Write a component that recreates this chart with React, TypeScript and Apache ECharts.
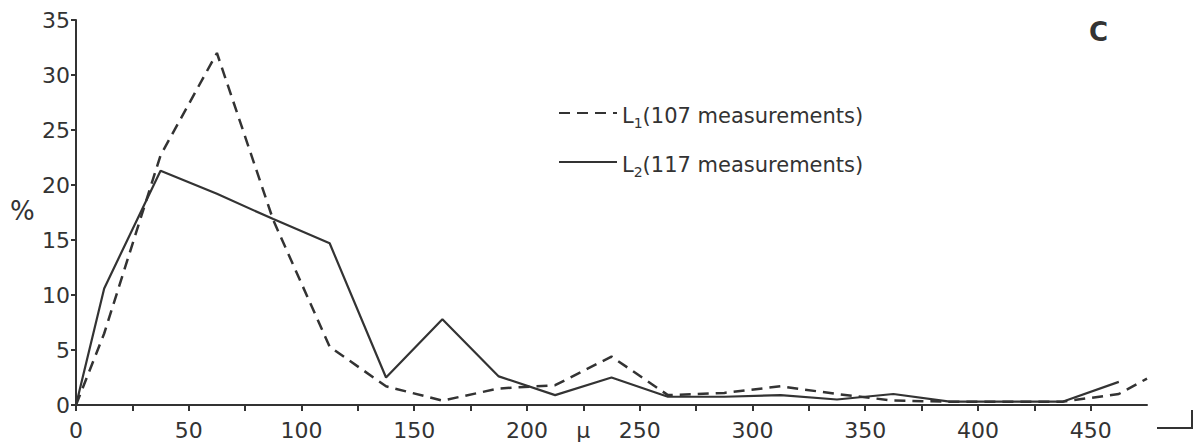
import React, { useEffect, useRef } from "react";
import * as echarts from "echarts";

const xTickLabels = ["0", "50", "100", "150", "200", "250", "300", "350", "400", "450"];
const unitLabel = "μ";
const seriesNames = ["L1", "L2"];
const legendTexts = ["(107 measurements)", "(117 measurements)"];

const l1X = [0, 12.5, 37.5, 62.5, 87.5, 112.5, 137.5, 162.5, 187.5, 212.5, 237.5, 262.5, 287.5, 312.5, 337.5, 362.5, 387.5, 412.5, 437.5, 462.5, 475];
const l1Y = [0, 6.5, 22.7, 32.0, 16.8, 5.3, 1.7, 0.4, 1.5, 1.8, 4.4, 0.9, 1.1, 1.7, 1.0, 0.4, 0.3, 0.3, 0.3, 1.0, 2.4];

const l2X = [0, 12.5, 37.5, 62.5, 87.5, 112.5, 137.5, 162.5, 187.5, 212.5, 237.5, 262.5, 287.5, 312.5, 337.5, 362.5, 387.5, 412.5, 437.5, 462.5];
const l2Y = [0, 10.6, 21.3, 19.2, 16.9, 14.7, 2.5, 7.8, 2.6, 0.9, 2.5, 0.75, 0.75, 0.9, 0.5, 1.0, 0.3, 0.3, 0.3, 2.1];

const INK = "#333333";
const FONT = "DejaVu Sans";

export default function App() {
  const ref = useRef<HTMLDivElement>(null);
  useEffect(() => {
    document.body.style.margin = "0";
    const chart = echarts.init(ref.current!, null, { renderer: "svg" });
    const l1 = l1X.map((x, i) => [x, l1Y[i]]);
    const l2 = l2X.map((x, i) => [x, l2Y[i]]);
    chart.setOption({
      animation: false,
      backgroundColor: "#ffffff",
      grid: { left: 76, right: 46, top: 20, bottom: 41, containLabel: false },
      legend: {
        orient: "vertical",
        left: 553,
        top: 100,
        itemWidth: 58,
        itemHeight: 14,
        itemGap: 24,
        data: seriesNames,
        itemStyle: { opacity: 0 },
        formatter: (name: string) => {
          const i = seriesNames.indexOf(name);
          return "{main|L}{sub|" + name.slice(1) + "}{main|" + legendTexts[i] + "}";
        },
        textStyle: {
          color: INK,
          fontFamily: FONT,
          rich: {
            main: { fontSize: 21, fontFamily: FONT, color: INK, lineHeight: 26, verticalAlign: "bottom" },
            sub: { fontSize: 14, fontFamily: FONT, color: INK, lineHeight: 14, verticalAlign: "bottom", padding: [0, 0, -4, 0] },
          },
        },
      },
      xAxis: {
        type: "value",
        min: 0,
        max: 475,
        interval: 25,
        axisLine: { show: true, lineStyle: { color: INK, width: 2 } },
        axisTick: { show: true, length: 6, lineStyle: { color: INK, width: 2 } },
        splitLine: { show: false },
        axisLabel: {
          color: INK,
          fontFamily: FONT,
          fontSize: 22,
          margin: 14,
          showMaxLabel: false,
          formatter: (v: number) => {
            if (v % 50 === 0) {
              const idx = v / 50;
              return xTickLabels[idx] ?? "";
            }
            if (v === 225) return unitLabel;
            return "";
          },
        },
      },
      yAxis: {
        type: "value",
        min: 0,
        max: 35,
        interval: 5,
        axisLine: { show: true, lineStyle: { color: INK, width: 2 } },
        axisTick: { show: true, length: 5, lineStyle: { color: INK, width: 2 } },
        splitLine: { show: false },
        axisLabel: { color: INK, fontFamily: FONT, fontSize: 22, margin: 6 },
      },
      series: [
        {
          name: seriesNames[0],
          type: "line",
          data: l1,
          symbol: "none",
          lineStyle: { color: INK, width: 2.5, type: [11, 7] },
          itemStyle: { color: INK },
        },
        {
          name: seriesNames[1],
          type: "line",
          data: l2,
          symbol: "none",
          lineStyle: { color: INK, width: 2.2, type: "solid" },
          itemStyle: { color: INK },
        },
      ],
      graphic: [
        {
          type: "text",
          left: 10,
          top: 198,
          style: { text: "%", fontSize: 26, fontFamily: FONT, fill: INK },
        },
        {
          type: "text",
          left: 1089,
          top: 19,
          style: { text: "C", fontSize: 26, fontWeight: "bold", fontFamily: FONT, fill: INK },
        },
        {
          type: "polyline",
          shape: { points: [[1157, 428], [1192, 428], [1192, 410]] },
          style: { stroke: INK, lineWidth: 2, fill: "none" },
        },
      ],
    });
    return () => chart.dispose();
  }, []);
  return <div ref={ref} style={{ width: 1193, height: 446 }} />;
}
